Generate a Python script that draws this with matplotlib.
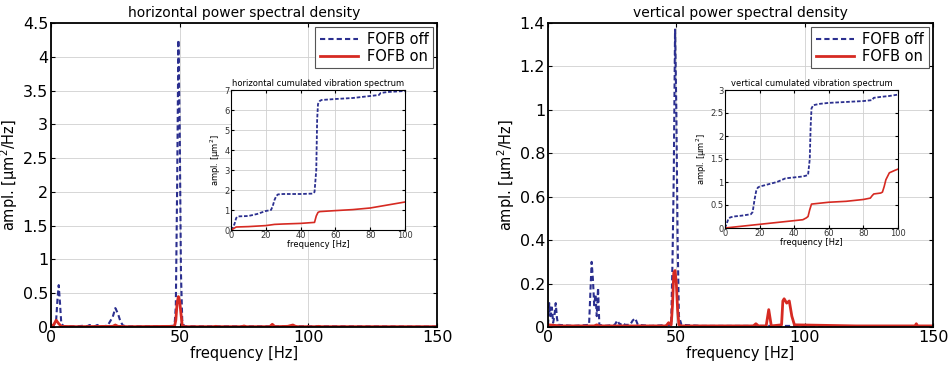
import matplotlib
matplotlib.use('Agg')
import matplotlib.pyplot as plt

# horizontal PSD
h_f_off = [0, 1, 2, 2.5, 3, 3.5, 4, 5, 10, 13, 14, 15, 17, 18, 19, 20, 22, 24, 25, 26, 27, 28, 30,
           35, 45, 48, 48.5, 49, 49.5, 50, 50.5, 51, 51.5, 52, 55, 60, 80, 100, 120, 150]
h_v_off = [0.01, 0.02, 0.1, 0.4, 0.62, 0.35, 0.05, 0.01, 0.01, 0.02, 0.01, 0.03, 0.01, 0.03, 0.01,
           0.01, 0.02, 0.15, 0.28, 0.2, 0.08, 0.02, 0.01, 0.01, 0.01, 0.02, 0.3, 2.0, 4.25, 3.0, 0.8,
           0.1, 0.03, 0.01, 0.01, 0.01, 0.01, 0.01, 0.01, 0.005]
h_f_on = [0, 1, 2, 3, 4, 10, 24, 25, 26, 30, 48, 48.5, 49, 49.5, 50, 50.5, 51, 52, 63, 64, 65, 74,
          75, 76, 85, 86, 87, 92, 93, 94, 95, 96, 103, 104, 105, 150]
h_v_on = [0.01, 0.03, 0.1, 0.05, 0.01, 0.005, 0.01, 0.03, 0.01, 0.005, 0.01, 0.1, 0.35, 0.45, 0.38,
          0.2, 0.02, 0.005, 0.005, 0.01, 0.005, 0.005, 0.015, 0.005, 0.005, 0.04, 0.005, 0.01, 0.02,
          0.03, 0.01, 0.005, 0.005, 0.01, 0.005, 0.005]

# vertical PSD
v_f_off = [0, 0.5, 1, 1.5, 2, 2.5, 3, 3.5, 4, 10, 16, 17, 17.5, 18, 18.5, 19, 19.5, 20, 22, 26, 27,
           28, 29, 30, 32, 33, 34, 35, 40, 48, 48.5, 49, 49.5, 50, 50.5, 51, 52, 60, 100, 150]
v_v_off = [0.01, 0.11, 0.05, 0.09, 0.02, 0.05, 0.11, 0.04, 0.01, 0.005, 0.01, 0.3, 0.22, 0.1, 0.15,
           0.05, 0.18, 0.01, 0.005, 0.01, 0.03, 0.01, 0.02, 0.01, 0.01, 0.03, 0.04, 0.01, 0.005,
           0.01, 0.3, 0.7, 1.37, 1.0, 0.4, 0.05, 0.01, 0.005, 0.005, 0.0]
v_f_on = [0, 5, 18, 19, 20, 30, 46, 47, 48, 48.5, 49, 49.5, 50, 50.5, 51, 52, 70, 80, 81, 82, 85,
          86, 87, 91, 91.5, 92, 93, 94, 95, 96, 120, 143, 143.5, 144, 150]
v_v_on = [0.01, 0.005, 0.005, 0.01, 0.005, 0.005, 0.005, 0.02, 0.01, 0.1, 0.25, 0.26, 0.2, 0.08,
          0.01, 0.005, 0.005, 0.005, 0.015, 0.005, 0.005, 0.08, 0.005, 0.01, 0.12, 0.13, 0.11, 0.12,
          0.05, 0.01, 0.005, 0.005, 0.015, 0.005, 0.005]

# cumulated spectra (insets)
hc_f_off = [0, 1, 2, 3, 4, 10, 15, 20, 23, 24, 25, 26, 27, 30, 40, 47, 48, 49, 49.5, 50, 51, 52,
            60, 70, 80, 85, 86, 90, 100]
hc_v_off = [0, 0.1, 0.3, 0.6, 0.68, 0.7, 0.8, 0.95, 1.0, 1.2, 1.5, 1.7, 1.78, 1.8, 1.8, 1.82, 1.9,
            3.0, 5.5, 6.3, 6.45, 6.5, 6.55, 6.6, 6.7, 6.75, 6.85, 6.9, 6.95]
hc_f_on = [0, 2, 3, 10, 20, 25, 30, 40, 48, 49, 50, 51, 60, 70, 80, 90, 100]
hc_v_on = [0, 0.1, 0.15, 0.17, 0.22, 0.28, 0.3, 0.33, 0.38, 0.7, 0.88, 0.92, 0.97, 1.02, 1.1,
           1.25, 1.4]
vc_f_off = [0, 1, 2, 3, 5, 10, 15, 16, 17, 18, 19, 20, 25, 30, 35, 40, 45, 48, 49, 49.5, 50, 51,
            55, 60, 70, 80, 85, 86, 90, 95, 100]
vc_v_off = [0, 0.1, 0.2, 0.23, 0.25, 0.27, 0.3, 0.35, 0.6, 0.8, 0.88, 0.9, 0.95, 1.0, 1.08, 1.1,
            1.12, 1.15, 1.5, 2.2, 2.6, 2.67, 2.7, 2.72, 2.74, 2.76, 2.78, 2.83, 2.85, 2.87, 2.9]
vc_f_on = [0, 5, 10, 20, 30, 40, 45, 47, 48, 49, 50, 55, 60, 70, 80, 84, 85, 86, 90, 91, 92, 93,
           95, 98, 100]
vc_v_on = [0, 0.02, 0.04, 0.08, 0.12, 0.16, 0.18, 0.22, 0.25, 0.4, 0.52, 0.54, 0.56, 0.58, 0.62,
           0.65, 0.7, 0.74, 0.76, 0.78, 0.9, 1.05, 1.2, 1.25, 1.28]

BLUE = '#2b2f8f'
RED = '#d62a22'
W, H = 948, 368


def style(ax, size):
    ax.tick_params(direction='in', top=True, right=True, labelsize=size, pad=2, length=3)
    ax.grid(True, color='#d0d0d0', linewidth=0.6)
    ax.set_axisbelow(True)
    for s in ax.spines.values():
        s.set_linewidth(1.3)


def pix(l, t, r, b):
    return [l / W, 1 - b / H, (r - l) / W, (b - t) / H]


fig = plt.figure(figsize=(9.48, 3.68), dpi=100)

panels = [
    ('horizontal', pix(51, 23, 437, 327), pix(231, 90, 405, 230),
     h_f_off, h_v_off, h_f_on, h_v_on, 4.5, 0.5,
     hc_f_off, hc_v_off, hc_f_on, hc_v_on, 7, 1),
    ('vertical', pix(548, 23, 933, 327), pix(725, 90, 898, 228),
     v_f_off, v_v_off, v_f_on, v_v_on, 1.4, 0.2,
     vc_f_off, vc_v_off, vc_f_on, vc_v_on, 3, 0.5),
]

for (name, rect, irect, f_off, v_off, f_on, v_on, ymax, ystep,
     cf_off, cv_off, cf_on, cv_on, cymax, cystep) in panels:
    ax = fig.add_axes(rect)
    ax.plot(f_off, v_off, '--', color=BLUE, linewidth=1.5, dashes=(2.5, 1.5), label='FOFB off')
    ax.plot(f_on, v_on, '-', color=RED, linewidth=2.0, label='FOFB on')
    ax.set_xlim(0, 150)
    ax.set_ylim(0, ymax)
    ax.set_xticks([0, 50, 100, 150])
    ax.set_yticks([round(i * ystep, 2) for i in range(int(round(ymax / ystep)) + 1)])
    ax.yaxis.set_major_formatter(plt.FuncFormatter(lambda v, p: ('%g' % v)))
    style(ax, 11.5)
    ax.set_title('%s power spectral density' % name, fontsize=10, pad=4)
    ax.set_xlabel('frequency [Hz]', fontsize=10.5, labelpad=1)
    ax.set_ylabel(r'ampl. [$\mathrm{\mu m^2}$/Hz]', fontsize=10.5, labelpad=2)
    leg = ax.legend(loc='upper right', fontsize=10.5, fancybox=False, framealpha=1,
                    edgecolor='#555555', borderaxespad=0.3, handlelength=2.6,
                    borderpad=0.3, labelspacing=0.15, handletextpad=0.6)
    leg.get_frame().set_linewidth(0.8)

    ia = fig.add_axes(irect)
    ia.plot(cf_off, cv_off, '--', color=BLUE, linewidth=1.3, dashes=(2, 1))
    ia.plot(cf_on, cv_on, '-', color=RED, linewidth=1.2)
    ia.set_xlim(0, 100)
    ia.set_ylim(0, cymax)
    ia.set_xticks([0, 20, 40, 60, 80, 100])
    ia.set_yticks([round(i * cystep, 2) for i in range(int(round(cymax / cystep)) + 1)])
    ia.yaxis.set_major_formatter(plt.FuncFormatter(lambda v, p: ('%g' % v)))
    style(ia, 6)
    for s in ia.spines.values():
        s.set_linewidth(0.8)
    ia.tick_params(length=2, pad=1, labelcolor='#333333')
    ia.set_title('%s cumulated vibration spectrum' % name, fontsize=6, pad=3)
    ia.set_xlabel('frequency [Hz]', fontsize=6, labelpad=0)
    ia.set_ylabel(r'ampl. [$\mathrm{\mu m^2}$]', fontsize=6, labelpad=1)

fig.savefig('out.png', dpi=100)
